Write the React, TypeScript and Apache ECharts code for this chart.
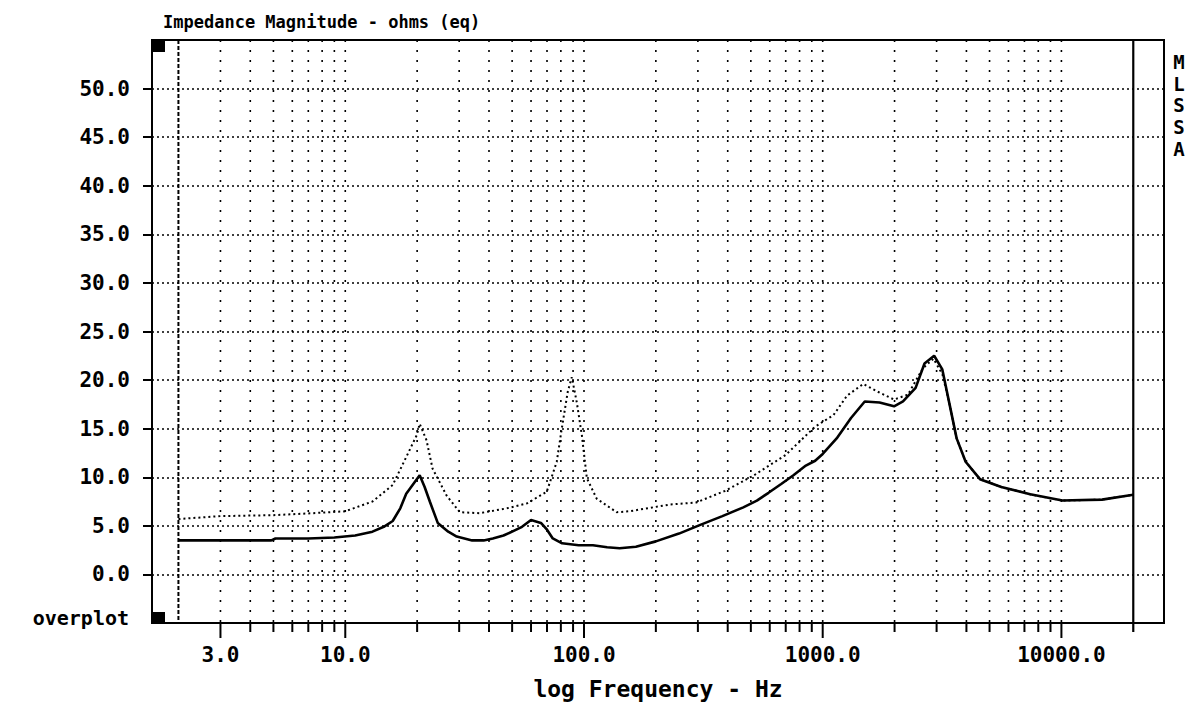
import React, { useEffect, useRef } from "react";
import * as echarts from "echarts";

const MONO = '"DejaVu Sans Mono", "Liberation Mono", monospace';

// Axis extents (log frequency in Hz, impedance in ohms)
const X_MIN = 1.55;
const X_MAX = 26900;
const Y_MIN = -5;
const Y_MAX = 55;

// Tick / grid values
const yTicks = [0, 5, 10, 15, 20, 25, 30, 35, 40, 45, 50];
const gridFreqs = [
  3, 4, 5, 6, 7, 8, 9, 10,
  20, 30, 40, 50, 60, 70, 80, 90, 100,
  200, 300, 400, 500, 600, 700, 800, 900, 1000,
  2000, 3000, 4000, 5000, 6000, 7000, 8000, 9000, 10000,
];
const labelFreqs = [3, 10, 100, 1000, 10000];
const boundaryFreqs = [2, 20000];

// Solid trace (current measurement)
const solidFreq = [
  2, 3, 4, 4.9, 5.1, 7, 9, 11, 13, 14.5, 15.8, 17, 18, 20.5, 21.5, 22.6, 24.4, 27, 29.3, 34, 38, 41.5,
  46, 50, 55, 60, 66, 70, 74, 81, 95, 109, 125, 141, 165, 200, 250, 307, 380, 465, 530, 593,
  670, 754, 850, 930, 1000, 1144, 1314, 1500, 1730, 1990, 2170, 2450, 2670, 2930, 3170,
  3400, 3640, 3970, 4560, 5600, 7400, 10100, 14800, 20000,
];
const solidOhm = [
  3.5, 3.5, 3.5, 3.5, 3.7, 3.7, 3.8, 4.0, 4.4, 4.9, 5.5, 6.8, 8.3, 10.2, 9.0, 7.5, 5.3, 4.4, 3.9, 3.5, 3.5, 3.7,
  4.0, 4.4, 4.9, 5.6, 5.3, 4.6, 3.7, 3.2, 3.0, 3.0, 2.8, 2.7, 2.85, 3.4, 4.2, 5.1, 6.0, 6.9, 7.6, 8.4,
  9.3, 10.2, 11.2, 11.7, 12.4, 14.0, 16.1, 17.8, 17.7, 17.3, 17.8, 19.2, 21.7, 22.5, 21.1,
  17.5, 14.0, 11.6, 9.8, 9.0, 8.25, 7.6, 7.7, 8.2,
];

// Dotted trace (overplot)
const dottedFreq = [
  2, 3, 5, 7.3, 10, 13, 15.8, 18.1, 19.9, 20.5, 21.9, 23.2, 26.6, 30.2, 36.5, 47.5, 57.6, 69.8,
  76.9, 80.7, 85.5, 88.9, 93.3, 98, 102.8, 113, 137, 155, 230, 295, 390, 515, 700, 929, 1110,
  1265, 1478, 1732, 1990, 2275, 2625, 2910, 3173, 3400, 3640, 3970, 4560, 5600, 7400, 10100,
  14800, 20000,
];
const dottedOhm = [
  5.7, 6.0, 6.1, 6.3, 6.5, 7.5, 9.2, 12.2, 14.3, 15.5, 13.8, 10.9, 8.1, 6.4, 6.3, 6.8, 7.3, 8.5,
  11.6, 15.0, 18.8, 20.3, 17.7, 14.3, 9.9, 7.8, 6.4, 6.5, 7.2, 7.4, 8.6, 10.2, 12.3, 15.2, 16.4,
  18.4, 19.6, 18.7, 18.0, 18.5, 21.2, 22.2, 20.6, 17.5, 14.0, 11.6, 9.8, 9.0, 8.25, 7.6,
  7.7, 8.2,
];

const TITLE = "Impedance Magnitude - ohms (eq)";
const X_NAME = "log Frequency - Hz";
const SIDE_TEXT = "M\nL\nS\nS\nA";
const OVERPLOT = "overplot";

function buildOption(): any {
  return {
    animation: false,
    backgroundColor: "#ffffff",
    grid: {
      left: 152,
      right: 28,
      top: 40,
      bottom: 84,
      show: true,
      borderColor: "#000",
      borderWidth: 2,
      containLabel: false,
      outerBoundsMode: "none",
    },
    xAxis: {
      type: "log",
      logBase: 10,
      min: X_MIN,
      max: X_MAX,
      axisLine: { show: true, onZero: false, lineStyle: { color: "#000", width: 2 } },
      axisTick: { show: false },
      axisLabel: { show: false },
      splitLine: { show: false },
      minorTick: { show: false },
      minorSplitLine: { show: false },
      name: X_NAME,
      nameLocation: "middle",
      nameGap: 54,
      nameTextStyle: {
        color: "#000",
        fontFamily: MONO,
        fontWeight: "bold",
        fontSize: 23,
      },
    },
    yAxis: {
      type: "value",
      min: Y_MIN,
      max: Y_MAX,
      interval: 5,
      axisLine: { show: true, onZero: false, lineStyle: { color: "#000", width: 2 } },
      axisTick: {
        show: true,
        inside: false,
        length: 9,
        customValues: yTicks,
        lineStyle: { color: "#000", width: 2 },
      },
      axisLabel: {
        show: true,
        customValues: yTicks,
        margin: 22,
        color: "#000",
        fontFamily: MONO,
        fontWeight: "bold",
        fontSize: 21,
        formatter: (v: number) => Number(v).toFixed(1),
      },
      splitLine: {
        show: true,
        lineStyle: { color: "#000", width: 1.5, type: [2, 3] },
      },
    },
    graphic: [
      {
        type: "text",
        x: 163,
        y: 22,
        style: {
          text: TITLE,
          fill: "#000",
          font: `bold 17px ${MONO}`,
          align: "left",
          verticalAlign: "middle",
        },
      },
      {
        type: "text",
        x: 1179,
        y: 51,
        style: {
          text: SIDE_TEXT,
          fill: "#000",
          font: `bold 19px ${MONO}`,
          align: "center",
          verticalAlign: "top",
          lineHeight: 21.75,
        },
      },
      {
        type: "text",
        x: 129,
        y: 618,
        style: {
          text: OVERPLOT,
          fill: "#000",
          font: `bold 20px ${MONO}`,
          align: "right",
          verticalAlign: "middle",
        },
      },
      { type: "rect", shape: { x: 152, y: 40, width: 13, height: 12 }, style: { fill: "#000" } },
      { type: "rect", shape: { x: 152, y: 612, width: 13, height: 12 }, style: { fill: "#000" } },
    ],
    series: [
      {
        type: "custom",
        name: "x grid",
        silent: true,
        clip: false,
        z: 1,
        data: gridFreqs.map((f) => [f, 0]),
        renderItem: (_params: any, api: any) => {
          const f = api.value(0);
          const top = api.coord([f, Y_MAX]);
          const bot = api.coord([f, Y_MIN]);
          const major = labelFreqs.indexOf(f) >= 0;
          const children: any[] = [
            {
              type: "line",
              shape: { x1: top[0], y1: top[1], x2: bot[0], y2: bot[1] },
              style: { stroke: "#000", lineWidth: 1.6, lineDash: [2, 8] },
            },
            {
              type: "line",
              shape: { x1: bot[0], y1: bot[1], x2: bot[0], y2: bot[1] + (major ? 15 : 9) },
              style: { stroke: "#000", lineWidth: 2 },
            },
          ];
          if (major) {
            children.push({
              type: "text",
              x: bot[0],
              y: bot[1] + 32,
              style: {
                text: Number(f).toFixed(1),
                fill: "#000",
                font: `bold 21px ${MONO}`,
                align: "center",
                verticalAlign: "middle",
              },
            });
          }
          return { type: "group", children };
        },
      },
      {
        type: "custom",
        name: "range bounds",
        silent: true,
        clip: false,
        z: 1,
        data: boundaryFreqs.map((f) => [f, 0]),
        renderItem: (params: any, api: any) => {
          const f = api.value(0);
          const top = api.coord([f, Y_MAX]);
          const bot = api.coord([f, Y_MIN]);
          const isStart = params.dataIndex === 0;
          return {
            type: "line",
            shape: { x1: top[0], y1: top[1], x2: bot[0], y2: bot[1] + (isStart ? 0 : 9) },
            style: isStart
              ? { stroke: "#000", lineWidth: 2, lineDash: [4, 2] }
              : { stroke: "#000", lineWidth: 2.2 },
          };
        },
      },
      {
        type: "line",
        name: "overplot",
        data: dottedFreq.map((f, i) => [f, dottedOhm[i]]),
        symbol: "none",
        showSymbol: false,
        z: 3,
        lineStyle: { color: "#000", width: 2, type: [2, 3] },
      },
      {
        type: "line",
        name: "current",
        data: solidFreq.map((f, i) => [f, solidOhm[i]]),
        symbol: "none",
        showSymbol: false,
        z: 4,
        lineStyle: { color: "#000", width: 2.6 },
      },
    ],
  };
}

export default function App() {
  const ref = useRef<HTMLDivElement>(null);
  useEffect(() => {
    document.body.style.margin = "0";
    if (!ref.current) return;
    const chart = echarts.init(ref.current, null, { renderer: "svg" });
    chart.setOption(buildOption());
    return () => {
      chart.dispose();
    };
  }, []);
  return <div ref={ref} style={{ width: 1192, height: 707, background: "#fff" }} />;
}
